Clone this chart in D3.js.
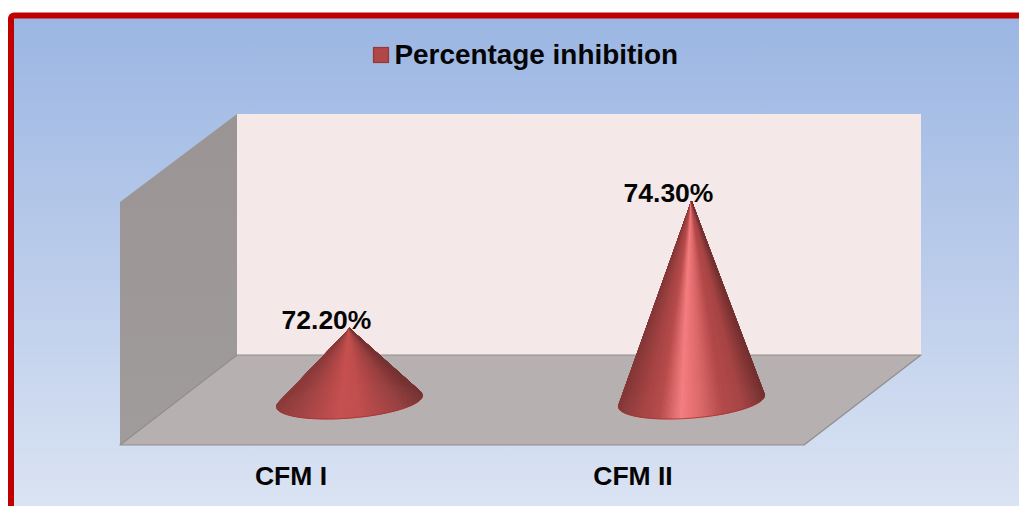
<!DOCTYPE html>
<html>
<head>
<meta charset="utf-8">
<script src="https://cdn.jsdelivr.net/npm/d3@7"></script>
<style>
  html, body { margin: 0; padding: 0; background: #fff; overflow: hidden; }
  svg { display: block; }
  text { font-family: "Liberation Sans", Arial, sans-serif; font-weight: 700; fill: #050505; }
</style>
</head>
<body>
<svg id="chart" width="1019" height="506"></svg>
<script>
// Chart content
const seriesName = "Percentage inhibition";
const categories = ["CFM I", "CFM II"];
const inhibition = [72.2, 74.3];
const valueDomain = [71, 75];

// Light ramps across each cone, from its left silhouette to its right one
const coneShades = [
  ["#8a3a3a", "#a04242", "#b44848", "#c65050", "#c24e4e", "#ae4646", "#984040", "#773232"],
  ["#843838", "#a24242", "#b84c4c", "#f47d80", "#dc6869", "#b44a4a", "#a64444", "#753131"]
];

const W = 1019, H = 506;
const svg = d3.select("#chart");

// Box geometry: the front plane sits low and left, the back plane is offset by depth
const front = { left: 120, right: 804, bottom: 445 };
const depth = { dx: 117, dy: -90 };
const wallHeight = 241;
const backBottom = front.bottom + depth.dy;
const backTop = backBottom - wallHeight;

const defs = svg.append("defs");
const bg = defs.append("linearGradient").attr("id", "bg")
  .attr("x1", 0).attr("y1", 0).attr("x2", 0).attr("y2", 1);
bg.append("stop").attr("offset", 0).attr("stop-color", "#9bb6e3");
bg.append("stop").attr("offset", 0.5).attr("stop-color", "#bccdeb");
bg.append("stop").attr("offset", 1).attr("stop-color", "#dfe7f4");

const side = defs.append("linearGradient").attr("id", "sideWall")
  .attr("x1", 0).attr("y1", 0).attr("x2", 0).attr("y2", 1);
side.append("stop").attr("offset", 0).attr("stop-color", "#9a9594");
side.append("stop").attr("offset", 1).attr("stop-color", "#a09c9b");

// Page backdrop and red frame, which runs off the right and bottom edges
svg.append("rect").attr("x", 11).attr("y", 15.4)
  .attr("width", W + 20).attr("height", H + 20).attr("rx", 3)
  .attr("fill", "url(#bg)").attr("stroke", "#c00000").attr("stroke-width", 6);

const poly = pts => "M" + pts.map(p => p.join(",")).join("L") + "Z";

// Back wall, side wall and floor
svg.append("path")
  .attr("d", poly([
    [front.left + depth.dx, backTop], [front.right + depth.dx, backTop],
    [front.right + depth.dx, backBottom], [front.left + depth.dx, backBottom]
  ]))
  .attr("fill", "#f4e8e8");
svg.append("path")
  .attr("d", poly([
    [front.left, front.bottom - wallHeight - 2], [front.left + depth.dx, backTop],
    [front.left + depth.dx, backBottom], [front.left, front.bottom]
  ]))
  .attr("fill", "url(#sideWall)");
svg.append("path")
  .attr("d", poly([
    [front.left, front.bottom], [front.left + depth.dx, backBottom],
    [front.right + depth.dx, backBottom], [front.right, front.bottom]
  ]))
  .attr("fill", "#b7b0b0").attr("stroke", "#908d8d").attr("stroke-width", 1.2)
  .attr("stroke-linejoin", "round");

// Scales: cones stand on the floor's mid-depth line, labels on the front edge
const xFront = d3.scaleBand().domain(categories).range([front.left, front.right]);
const xMid = d3.scaleBand().domain(categories)
  .range([front.left + depth.dx / 2, front.right + depth.dx / 2]);
const baseY = front.bottom + depth.dy / 2 + 1;
const y = d3.scaleLinear().domain(valueDomain).range([baseY, baseY - wallHeight - 1]);

// Cones are fans of thin triangles from the apex to the tilted base ellipse
const majorRatio = 73 / xMid.bandwidth();
const sliceStep = Math.PI / 90;

categories.forEach((cat, i) => {
  const cx = xMid(cat) + xMid.bandwidth() / 2;
  const ax = xMid.bandwidth() * majorRatio;
  const u = [ax, -ax * 0.081];
  const v = [1.4, 17];
  const apex = [cx, y(inhibition[i])];
  const pt = t => [
    cx + u[0] * Math.cos(t) + v[0] * Math.sin(t),
    baseY + u[1] * Math.cos(t) + v[1] * Math.sin(t)
  ];
  const ramp = d3.scaleLinear()
    .domain(d3.range(coneShades[i].length).map(k => -1 + 2 * k / (coneShades[i].length - 1)))
    .range(coneShades[i]);

  // Hidden back half first, then the visible front half from left to right
  const slices = d3.range(0, 2 * Math.PI, sliceStep)
    .map(t => ({ t, a: pt(t), b: pt(t + sliceStep) }))
    .sort((p, q) => {
      const pf = p.t < Math.PI, qf = q.t < Math.PI;
      return pf !== qf ? (pf ? 1 : -1) : d3.ascending(p.a[0], q.a[0]);
    });

  const g = svg.append("g").attr("class", "cone");
  const tone = s => ramp(((s.a[0] + s.b[0]) / 2 - cx) / ax);
  g.selectAll("path").data(slices).join("path")
    .attr("d", s => poly([apex, s.a, s.b]))
    .attr("fill", tone).attr("stroke", tone)
    .attr("stroke-width", 0.8).attr("stroke-linejoin", "round");

  // Darker lip along the visible front of the base
  const rim = d3.line()(d3.range(0.1, Math.PI - 0.05, 0.05).map(pt));
  g.append("path").attr("d", rim).attr("fill", "none")
    .attr("stroke", "#a83030").attr("stroke-width", 0.8).attr("stroke-linecap", "round");

  svg.append("text")
    .attr("x", cx - 23).attr("y", y(inhibition[i]) + 0.5)
    .attr("text-anchor", "middle").attr("font-size", 26.5)
    .text(inhibition[i].toFixed(2) + "%");
});

// Category axis under the front edge
const axis = svg.append("g")
  .attr("transform", `translate(0,${front.bottom})`)
  .call(d3.axisBottom(xFront).tickSize(0).tickPadding(21));
axis.select(".domain").remove();
axis.selectAll("text").attr("font-size", 26.5);
axis.attr("font-family", null).attr("font-size", null);

// Legend
const legend = svg.append("g").attr("transform", "translate(373,47)");
legend.append("rect").attr("x", 0.5).attr("y", 0.5).attr("width", 15).attr("height", 15)
  .attr("fill", "#b04848").attr("stroke", "#943838").attr("stroke-width", 1.2);
legend.append("text").attr("x", 21.5).attr("y", 16.5).attr("font-size", 27.9).text(seriesName);
</script>
</body>
</html>
